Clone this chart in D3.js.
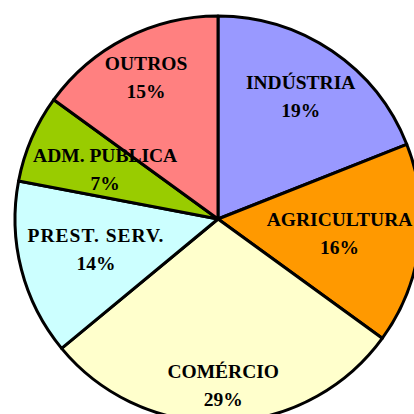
<!DOCTYPE html>
<html>
<head>
<meta charset="utf-8">
<script src="https://cdn.jsdelivr.net/npm/d3@7"></script>
<style>
  html, body { margin: 0; padding: 0; background: #fff; overflow: hidden; }
  svg { display: block; }
  .lbl { font-family: "Liberation Serif", "Times New Roman", serif; font-weight: bold; font-size: 19.5px; fill: #000; }
</style>
</head>
<body>
<svg id="pie" width="414" height="414"></svg>
<script>
// sectors, clockwise from 12 o'clock
var categories = ["INDÚSTRIA", "AGRICULTURA", "COMÉRCIO", "PREST. SERV.", "ADM. PUBLICA", "OUTROS"];
var shares = [19, 16, 29, 14, 7, 15];
var colors = ["#9999FF", "#FF9900", "#FFFFCC", "#CCFFFF", "#99CC00", "#FF8080"];

var width = 414, height = 414,
	cx = 218, cy = 219,
	radius = 203;

var data = categories.map(function(c, i) {
	return { name: c, value: shares[i], color: colors[i] };
});

var svg = d3.select("#pie");
var g = svg.append("g").attr("transform", "translate(" + cx + "," + cy + ")");

var pie = d3.pie().sort(null).value(d => d.value);
var arc = d3.arc().innerRadius(0).outerRadius(radius);
var arcs = pie(data);

g.selectAll("path.slice").data(arcs)
	.enter().append("path")
	.classed("slice", true)
	.attr("d", arc)
	.attr("fill", d => d.data.color)
	.attr("stroke", "#000")
	.attr("stroke-width", 3)
	.attr("stroke-linejoin", "round");

// labels: two lines, pushed outward along the mid angle until the box touches the rim
var lineGap = 28;
var labels = g.selectAll("text.lbl").data(arcs)
	.enter().append("text")
	.classed("lbl", true)
	.attr("text-anchor", "middle");

labels.append("tspan").attr("x", 0).attr("y", 0)
	.style("letter-spacing", d => d.data.name == "PREST. SERV." ? "1px" : null)
	.text(d => d.data.name);
labels.append("tspan").attr("x", 0).attr("y", lineGap)
	.text(d => d.data.value + "%");

labels.each(function(d) {
	var el = d3.select(this);
	var bb = this.getBBox();
	// tighter box: cap top of line 1 to baseline of line 2
	var top = -13, bottom = lineGap + 1;
	var w = bb.width, h = bottom - top;
	var a = (d.startAngle + d.endAngle) / 2;
	var lim = radius - 5;
	var best = 0;
	for (var dist = 0; dist < radius; dist += 0.5) {
		var mx = Math.sin(a) * dist, my = -Math.cos(a) * dist;
		var ok = true;
		[[-w / 2, -h / 2], [w / 2, -h / 2], [-w / 2, h / 2], [w / 2, h / 2]].forEach(function(c) {
			var px = mx + c[0], py = my + c[1];
			if (Math.sqrt(px * px + py * py) > lim) ok = false;
		});
		if (ok) best = dist; else break;
	}
	var mx = Math.sin(a) * best, my = -Math.cos(a) * best;
	el.attr("transform", "translate(" + mx + "," + (my - h / 2 - top) + ")");
});
</script>
</body>
</html>
